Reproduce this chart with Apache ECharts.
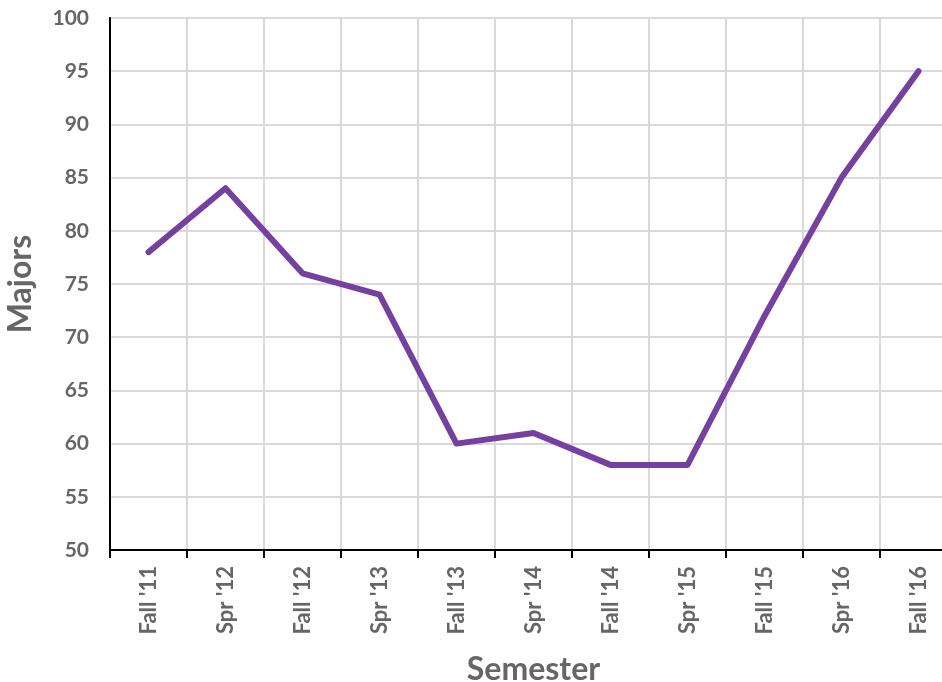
<!DOCTYPE html>
<html><head><meta charset="utf-8">
<script src="https://cdn.jsdelivr.net/npm/echarts@6/dist/echarts.min.js"></script>
<style>html,body{margin:0;padding:0;background:#fff}#c{width:942px;height:682px}</style>
</head><body><div id="c"></div>
<script>
const categories = ["Fall '11","Spr '12","Fall '12","Spr '13","Fall '13","Spr '14","Fall '14","Spr '15","Fall '15","Spr '16","Fall '16"];
const majors = [78, 84, 76, 74, 60, 61, 58, 58, 72, 85, 95];
const yMin = 50, yMax = 100, yStep = 5;

const chart = echarts.init(document.getElementById('c'));
const txt = '#666666';
const font = 'Lato, "Open Sans", sans-serif';
chart.setOption({
  animation: false,
  grid: {left: 110, top: 18, bottom: 132, right: -15, show: true, borderColor: '#000', borderWidth: 2, containLabel: false, outerBoundsMode: 'none'},
  xAxis: {
    type: 'category', data: categories, boundaryGap: true,
    name: 'Semester', nameLocation: 'middle', nameGap: 104,
    nameTextStyle: {fontFamily: font, fontWeight: 'bold', fontSize: 32, color: txt},
    axisLine: {lineStyle: {color: '#000', width: 2}},
    axisTick: {show: true, length: 8, lineStyle: {color: '#000', width: 2}},
    axisLabel: {rotate: 90, margin: 16, fontFamily: font, fontWeight: 'bold', fontSize: 22, color: txt, interval: 0, hideOverlap: false},
    splitLine: {show: true, lineStyle: {color: '#d9d9d9', width: 2}}
  },
  yAxis: {
    type: 'value', min: yMin, max: yMax, interval: yStep,
    name: 'Majors', nameLocation: 'middle', nameGap: 73,
    nameTextStyle: {fontFamily: font, fontWeight: 'bold', fontSize: 32, color: txt},
    axisLine: {show: true, lineStyle: {color: '#000', width: 2}},
    axisTick: {show: false},
    axisLabel: {margin: 21, fontFamily: font, fontWeight: 'bold', fontSize: 21, color: txt},
    splitLine: {show: true, lineStyle: {color: '#d9d9d9', width: 2}}
  },
  series: [{
    type: 'line', data: majors, symbol: 'none',
    lineStyle: {color: '#7540a0', width: 6, cap: 'round', join: 'round'}
  }]
});
</script></body></html>
